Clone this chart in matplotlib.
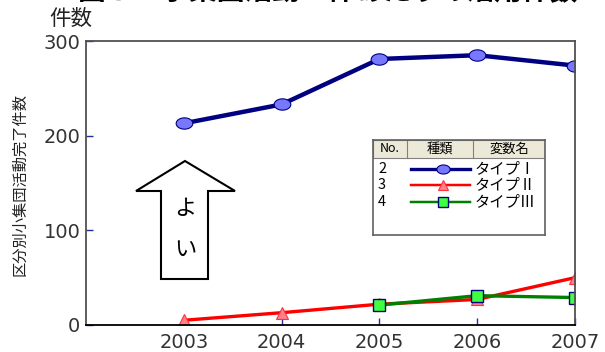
import numpy as np
import matplotlib
matplotlib.use('Agg')
import matplotlib.pyplot as plt
from matplotlib.path import Path
from matplotlib.patches import Polygon, Rectangle

plt.rcParams['font.family'] = ['Noto Sans CJK JP', 'DejaVu Sans']

# values per year
years = [2003, 2004, 2005, 2006, 2007]
type1 = [213, 233, 281, 285, 274]
type2 = [5, 13, 22, 27, 50]
years3 = [2005, 2006, 2007]
type3 = [21, 31, 29]

series_no = ['2', '3', '4']
series_name = ['タイプⅠ', 'タイプⅡ', 'タイプⅢ']
yticks = [0, 100, 200, 300]

# ellipse marker for type I
t = np.linspace(0, 2 * np.pi, 40)
ellipse = Path(np.column_stack([np.cos(t), 0.68 * np.sin(t)]), closed=True)

styles = [
    dict(color='#000080', lw=3.2, marker=ellipse, ms=12, mfc='#7878ff', mec='#000080', mew=0.8),
    dict(color='#ff0000', lw=2.4, marker='^', ms=8.5, mfc='#ff8088', mec='#ff3040', mew=0.8),
    dict(color='#008000', lw=2.4, marker='s', ms=8.5, mfc='#40ff40', mec='#000080', mew=1.0),
]

fig = plt.figure(figsize=(6.05, 3.52), dpi=100)
ax = fig.add_axes([86 / 605, 27 / 352, 489 / 605, 284 / 352])

ax.plot(years, type1, **styles[0], zorder=5)
ax.plot(years, type2, **styles[1], zorder=4)
ax.plot(years3, type3, **styles[2], zorder=6)

ax.set_xlim(2002, 2007)
ax.set_ylim(0, 300)
ax.set_xticks(years)
ax.set_yticks(yticks)
ax.tick_params(direction='in', length=5, width=1, color='#2030a0',
               labelsize=14, labelcolor='#333333', pad=4)
ax.tick_params(axis='x', pad=6)
for lbl in ax.get_xticklabels() + ax.get_yticklabels():
    lbl.set_family('DejaVu Sans')
for s in ['left', 'top', 'right']:
    ax.spines[s].set_color('#505050')
    ax.spines[s].set_linewidth(1.3)
ax.spines['bottom'].set_color('black')
ax.spines['bottom'].set_linewidth(1.3)
for sp in ax.spines.values():
    sp.set_zorder(7)

# big "good" arrow
def fx(px):
    return (px - 86) / 489

def fy(py):
    return (325 - py) / 284

arrow_px = [(185, 161), (235, 191), (208, 191), (208, 279),
            (161, 279), (161, 191), (136, 191)]
ax.add_patch(Polygon([(fx(x), fy(y)) for x, y in arrow_px], closed=True,
                     transform=ax.transAxes, facecolor='white',
                     edgecolor='black', lw=1.5, zorder=3))
ax.text(fx(185), fy(208), 'よ', transform=ax.transAxes, ha='center',
        va='center', fontsize=16, zorder=4)
ax.text(fx(185), fy(249), 'い', transform=ax.transAxes, ha='center',
        va='center', fontsize=16, zorder=4)

# title (runs off the top edge) and axis captions
fig.text(78 / 605, 1 - 0.5 / 352, '図７　小集団活動１件あたりの活用件数',
         fontsize=20, fontweight='bold', va='baseline', ha='left')
fig.text(71 / 605, 1 - 19 / 352, '件数', fontsize=15.5, ha='center',
         va='center', color='#222222')
fig.text(20 / 605, 1 - 185 / 352, '区分別小集団活動完了件数', fontsize=11,
         rotation=90, ha='center', va='center', color='#222222')

# legend table
lg = fig.add_axes([373 / 605, 117 / 352, 172 / 605, 95 / 352])
lg.set_xlim(0, 172)
lg.set_ylim(95, 0)
lg.set_xticks([])
lg.set_yticks([])
for sp in lg.spines.values():
    sp.set_color('#606060')
    sp.set_linewidth(1.2)
lg.add_patch(Rectangle((0, 0), 172, 18, facecolor='#ece9d8',
                       edgecolor='#808080', lw=0.8))
for x in [34, 100]:
    lg.plot([x, x], [0, 18], color='#808080', lw=0.8)
lg.text(17, 9, 'No.', ha='center', va='center', fontsize=9)
lg.text(67, 9, '種類', ha='center', va='center', fontsize=9.5)
lg.text(136, 9, '変数名', ha='center', va='center', fontsize=9.5)
row_y = [29, 45, 62]
for i in range(3):
    st = dict(styles[i])
    st['lw'] = st['lw'] * 0.75
    st['ms'] = st['ms'] * 0.8
    lg.plot([38, 97], [row_y[i], row_y[i]], **{k: v for k, v in st.items() if k != 'marker'}, marker='None')
    lg.plot([70], [row_y[i]], linestyle='None', **{k: v for k, v in st.items() if k not in ('lw', 'color')})
    lg.text(5, row_y[i], series_no[i], ha='left', va='center', fontsize=10.5)
    lg.text(102, row_y[i], series_name[i], ha='left', va='center', fontsize=11)

fig.savefig('out.png', dpi=100)
